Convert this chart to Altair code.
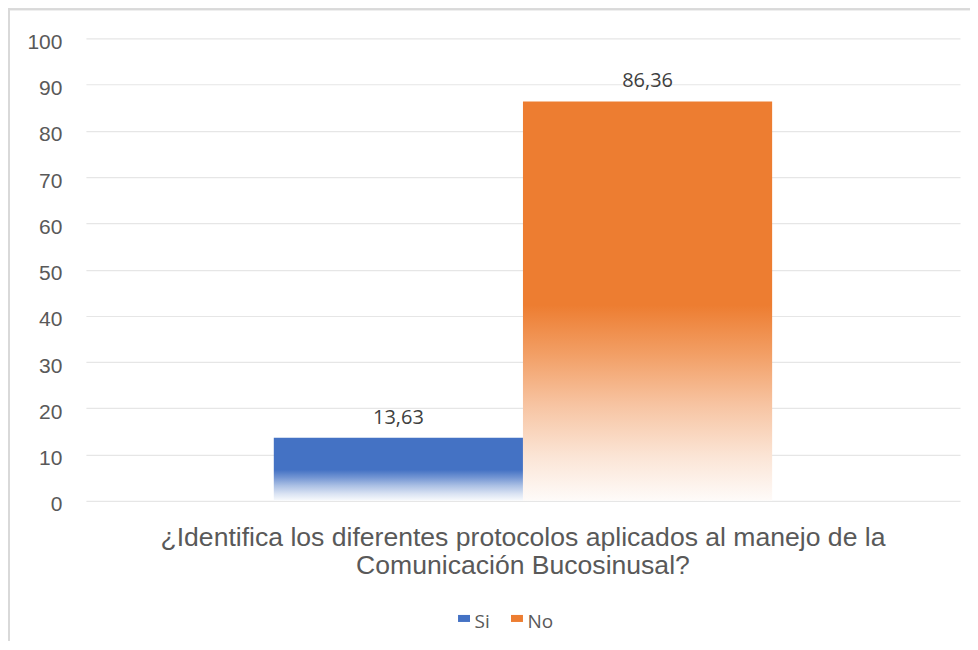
import altair as alt
import pandas as pd

# ---- data ----
question_lines = [
    "¿Identifica los diferentes protocolos aplicados al manejo de la",
    "Comunicación Bucosinusal?",
]
series = ["Si", "No"]
values = [13.63, 86.36]
colors = ["#4472C4", "#ED7D31"]
y_ticks = [0, 10, 20, 30, 40, 50, 60, 70, 80, 90, 100]

question = "\n".join(question_lines)
df = pd.DataFrame({"pregunta": [question] * len(series), "serie": series, "valor": values})

W, H = 875, 463
PAD = {"left": 78, "top": 30, "right": 10, "bottom": 140}

def fade(hex_color):
    r, g, b = int(hex_color[1:3], 16), int(hex_color[3:5], 16), int(hex_color[5:7], 16)
    def mix(t):
        return "#%02X%02X%02X" % tuple(round(c * t + 255 * (1 - t)) for c in (r, g, b))
    return alt.LinearGradient(
        gradient="linear", x1=0, x2=0, y1=0, y2=1,
        stops=[
            alt.GradientStop(color=hex_color, offset=0),
            alt.GradientStop(color=hex_color, offset=0.51),
            alt.GradientStop(color=mix(0.75), offset=0.63),
            alt.GradientStop(color=mix(0.45), offset=0.76),
            alt.GradientStop(color=mix(0.2), offset=0.89),
            alt.GradientStop(color=mix(0.03), offset=1),
        ],
    )

x_enc = alt.X(
    "pregunta:N",
    title=None,
    scale=alt.Scale(paddingInner=0, paddingOuter=0.377),
    axis=alt.Axis(
        labelExpr="split(datum.label, '\\n')",
        labelAngle=0,
        labelFont="Liberation Sans",
        labelFontSize=26.6,
        labelLineHeight=28,
        labelColor="#595959",
        labelPadding=24,
        labelLimit=0,
        ticks=False,
        domain=False,
        grid=False,
    ),
)
xo_enc = alt.XOffset("serie:N", sort=series, scale=alt.Scale(paddingInner=0, paddingOuter=0))
y_enc = alt.Y(
    "valor:Q",
    title=None,
    scale=alt.Scale(domain=[0, 100], nice=False),
    axis=alt.Axis(
        values=y_ticks,
        labelFont="Liberation Sans",
        labelFontSize=21,
        labelColor="#595959",
        labelPadding=24,
        labelOffset=4,
        ticks=False,
        domain=False,
        gridColor="#E6E6E6",
        gridWidth=1.2,
    ),
)

base = alt.Chart(df)

bars = [
    base.transform_filter(alt.datum.serie == s)
    .mark_bar(color=fade(c), cornerRadius=0)
    .encode(x=x_enc, xOffset=xo_enc, y=y_enc)
    for s, c in zip(series, colors)
]

legend_layer = base.mark_square(opacity=0, size=10).encode(
    x=x_enc,
    xOffset=xo_enc,
    y=y_enc,
    color=alt.Color(
        "serie:N",
        sort=series,
        scale=alt.Scale(domain=series, range=colors),
        legend=alt.Legend(
            title=None,
            orient="none",
            direction="horizontal",
            legendX=369,
            legendY=575,
            symbolType="M-1,-1.25H1V-0.08H-1Z",
            symbolSize=144,
            symbolOpacity=1,
            symbolStrokeWidth=0,
            labelFont="Open Sans",
            labelFontSize=19,
            labelColor="#595959",
            labelOffset=1,
            columnPadding=17,
            padding=0,
        ),
    ),
)

labels = base.transform_calculate(
    etiqueta="replace(format(datum.valor, '.2f'), '.', ',')"
).mark_text(
    font="Open Sans", fontSize=20, color="#404040", baseline="alphabetic", dy=-14
).encode(x=x_enc, xOffset=xo_enc, y=y_enc, text="etiqueta:N")

frame_left = base.mark_rule(color="#D9D9D9", strokeWidth=2).encode(
    x=alt.value(-77), y=alt.value(-30), y2=alt.value(H + PAD["bottom"])
)
frame_top = base.mark_rule(color="#D9D9D9", strokeWidth=2).encode(
    y=alt.value(-29), x=alt.value(-78), x2=alt.value(W + PAD["right"])
)

chart = alt.layer(*bars, legend_layer, labels, frame_left, frame_top).properties(
    width=W,
    height=H,
    autosize=alt.AutoSizeParams(type="none"),
    padding=PAD,
    background="white",
).configure_view(stroke=None)

chart.save("out.html", embed_options={"renderer": "svg", "actions": False})
